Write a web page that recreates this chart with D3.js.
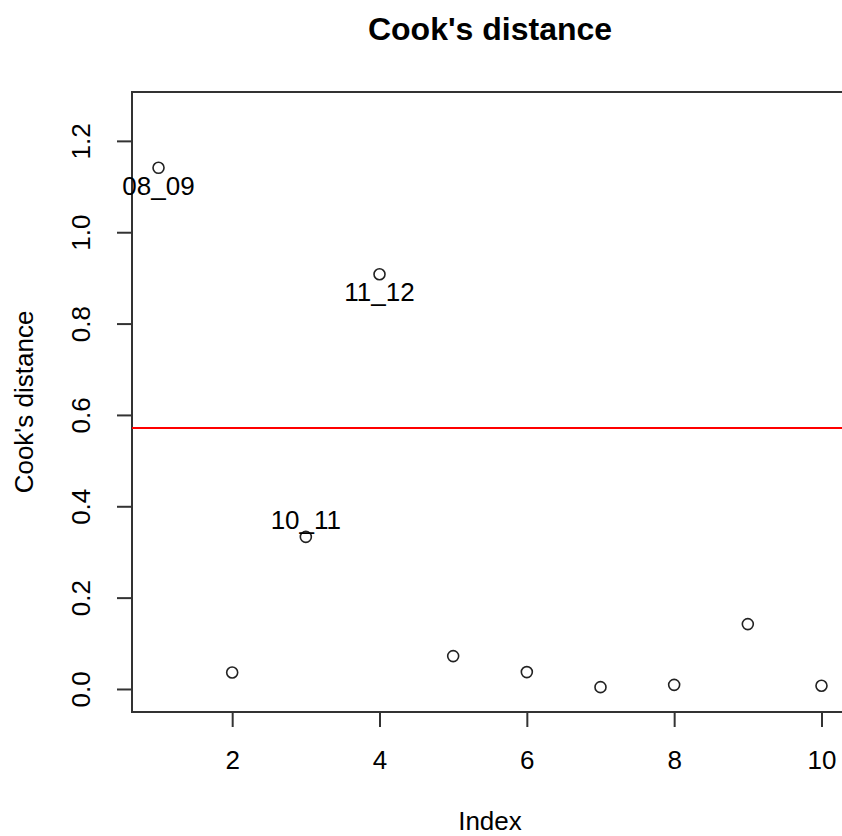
<!DOCTYPE html>
<html>
<head>
<meta charset="utf-8">
<script src="https://cdn.jsdelivr.net/npm/d3@7"></script>
<style>
  body { margin: 0; background: #fff; }
  svg text { font-family: "Liberation Sans", Arial, sans-serif; fill: #000; }
</style>
</head>
<body>
<svg id="chart"></svg>
<script>
// values
const obsIndex = [1, 2, 3, 4, 5, 6, 7, 8, 9, 10];
const cooksD = [1.141, 0.036, 0.333, 0.908, 0.072, 0.037, 0.004, 0.009, 0.142, 0.007];
const labelIdx = [1, 4, 3];
const labelText = ["08_09", "11_12", "10_11"];
const labelPos = ["below", "below", "above"];
const cutoff = 4 / 7;
const xTicks = [2, 4, 6, 8, 10];
const yTicks = [0, 0.2, 0.4, 0.6, 0.8, 1.0, 1.2];

const width = 842, height = 836;
const plotL = 132, plotR = 848, plotT = 92, plotB = 712;
const ink = "#333";
const fs = 26;

const svg = d3.select("#chart").attr("width", width).attr("height", height);

const x = d3.scaleLinear().domain([0.64, 10.36]).range([plotL, plotR]);
const y = d3.scaleLinear().domain([-0.0504, 1.307]).range([plotB, plotT]);

// box
svg.append("rect")
  .attr("x", plotL).attr("y", plotT)
  .attr("width", plotR - plotL).attr("height", plotB - plotT)
  .attr("fill", "none").attr("stroke", ink).attr("stroke-width", 2);

// x axis
const xAxis = svg.append("g").attr("transform", `translate(0,${plotB})`)
  .call(d3.axisBottom(x).tickValues(xTicks).tickSize(15).tickPadding(24).tickFormat(d3.format("d")));
xAxis.select(".domain").remove();
xAxis.selectAll("line").attr("stroke", ink).attr("stroke-width", 2);
xAxis.selectAll("text").attr("font-size", fs).attr("fill", "#000");

// y axis with rotated labels
const yAxis = svg.append("g").attr("transform", `translate(${plotL},0)`)
  .call(d3.axisLeft(y).tickValues(yTicks).tickSize(15).tickFormat(d3.format(".1f")));
yAxis.select(".domain").remove();
yAxis.selectAll("line").attr("stroke", ink).attr("stroke-width", 2);
yAxis.selectAll("text")
  .attr("font-size", fs).attr("fill", "#000")
  .attr("x", null).attr("dy", null)
  .attr("text-anchor", "middle")
  .attr("transform", "translate(-42,0) rotate(-90)");

// cutoff line
svg.append("line")
  .attr("x1", plotL).attr("x2", plotR)
  .attr("y1", y(cutoff)).attr("y2", y(cutoff))
  .attr("stroke", "#ff0000").attr("stroke-width", 1.8);

// points
svg.selectAll(".pt")
  .data(obsIndex)
  .enter()
  .append("circle")
  .attr("class", "pt")
  .attr("cx", d => x(d))
  .attr("cy", (d, i) => y(cooksD[i]))
  .attr("r", 5.5)
  .attr("fill", "none")
  .attr("stroke", "#222")
  .attr("stroke-width", 1.6);

// point labels
svg.selectAll(".lab")
  .data(labelIdx)
  .enter()
  .append("text")
  .attr("class", "lab")
  .attr("x", d => x(d))
  .attr("y", (d, i) => y(cooksD[d - 1]) + (labelPos[i] === "below" ? 27 : -8))
  .attr("text-anchor", "middle")
  .attr("font-size", fs)
  .text((d, i) => labelText[i]);

// titles
svg.append("text")
  .attr("x", (plotL + plotR) / 2).attr("y", 40)
  .attr("text-anchor", "middle")
  .attr("font-size", 32).attr("font-weight", "bold")
  .text("Cook's distance");

svg.append("text")
  .attr("x", (plotL + plotR) / 2).attr("y", 830)
  .attr("text-anchor", "middle")
  .attr("font-size", fs)
  .text("Index");

svg.append("text")
  .attr("transform", `translate(33,${(plotT + plotB) / 2}) rotate(-90)`)
  .attr("text-anchor", "middle")
  .attr("font-size", fs)
  .text("Cook's distance");
</script>
</body>
</html>
